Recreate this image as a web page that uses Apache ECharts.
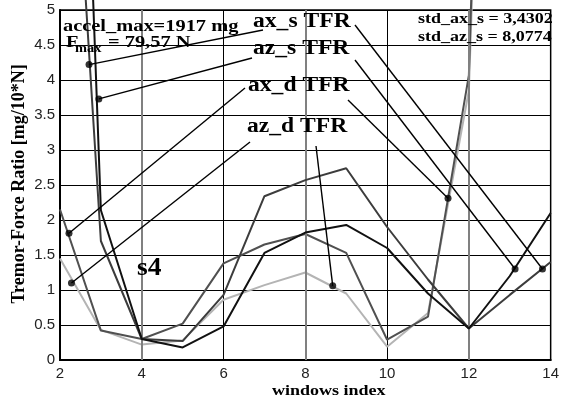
<!DOCTYPE html>
<html><head><meta charset="utf-8">
<script src="https://cdn.jsdelivr.net/npm/echarts@6/dist/echarts.min.js"></script>
<style>html,body{margin:0;padding:0;background:#fff}#c{width:562px;height:402px}</style>
</head><body><div id="c"></div>
<script>
// ---- data ----
const windowsIndex = [2, 3, 4, 5, 6, 7, 8, 9, 10, 11, 12, 13, 14];
const axS = [11, 1.7, 0.3, 0.27, 0.93, 2.34, 2.57, 2.74, 1.9, 1.15, 0.45, 0.93, 1.4];
const azS = [18, 2.14, 0.3, 0.18, 0.48, 1.53, 1.82, 1.93, 1.6, 0.95, 0.45, 1.2, 2.1];
const axD = [2.15, 0.42, 0.3, 0.52, 1.38, 1.65, 1.8, 1.53, 0.29, 0.62, 4.07, 23, null];
const azD = [1.45, 0.43, 0.22, 0.28, 0.86, 1.07, 1.25, 0.95, 0.19, 0.67, 3.85, 21, null];
const grayGridX = [4, 8, 12];
// annotation dots (data coordinates) for each label
const axSDots = [[2.71, 4.22], [13.8, 1.3]];
const azSDots = [[2.95, 3.73], [13.13, 1.3]];
const axDDots = [[2.22, 1.81], [11.49, 2.31]];
const azDDots = [[2.28, 1.1], [8.67, 1.06]];

const pair = (xs, ys) => xs.map((x, i) => [x, ys[i]]);
const lineSeries = (name, ys, color, z) => ({
  name, type: 'line', data: pair(windowsIndex, ys), clip: false,
  showSymbol: false, symbol: 'none', connectNulls: false, z,
  lineStyle: { color, width: 2 }
});

const chart = echarts.init(document.getElementById('c'), null, { renderer: 'canvas' });
const serif = '"Liberation Serif", "Times New Roman", serif';
chart.setOption({
  animation: false,
  backgroundColor: '#fff',
  grid: { left: 60, right: 5, top: 10, bottom: 42, show: true, borderColor: '#000', borderWidth: 1.5 },
  xAxis: {
    type: 'value', min: 2, max: 14, interval: 2,
    axisLine: { show: true, lineStyle: { color: '#000', width: 2 } },
    axisTick: { show: false },
    axisLabel: { fontSize: 15, color: '#222', fontFamily: '"Liberation Sans", Arial, sans-serif', margin: 6 },
    splitLine: { show: true, lineStyle: { color: '#000', width: 1 } }
  },
  yAxis: {
    type: 'value', min: 0, max: 5, interval: 0.5,
    axisLine: { show: true, lineStyle: { color: '#000', width: 2 } },
    axisTick: { show: false },
    axisLabel: { fontSize: 15, color: '#222', fontFamily: '"Liberation Sans", Arial, sans-serif', margin: 5 },
    splitLine: { show: true, lineStyle: { color: '#000', width: 1 } }
  },
  series: [
    {
      type: 'line', data: [], z: 1, silent: true,
      markLine: {
        symbol: 'none', silent: true, label: { show: false },
        lineStyle: { color: '#808080', width: 2, type: 'solid' },
        data: grayGridX.map(v => ({ xAxis: v }))
      }
    },
    lineSeries('az_d TFR', azD, '#b4b4b4', 3),
    lineSeries('ax_d TFR', axD, '#505050', 4),
    lineSeries('ax_s TFR', axS, '#3c3c3c', 5),
    lineSeries('az_s TFR', azS, '#111111', 6),
    {
      type: 'scatter', z: 10, symbolSize: 7, itemStyle: { color: '#000' },
      data: [].concat(axSDots, azSDots, axDDots, azDDots)
    }
  ]
});

// annotations
const px = p => chart.convertToPixel({ gridIndex: 0 }, p);
const T = (text, x, baseline, size, sx, extra) => Object.assign({
  type: 'text', x, y: baseline - 0.33 * size, scaleX: sx, z: 20,
  style: { text, font: 'bold ' + size + 'px ' + serif, fill: '#000', verticalAlign: 'middle', align: 'left' }
}, extra || {});
const L = (a, b) => ({
  type: 'line', z: 15, silent: true,
  shape: { x1: a[0], y1: a[1], x2: b[0], y2: b[1] },
  style: { stroke: '#000', lineWidth: 1.4 }
});
const anchors = [
  [[263, 30], [355, 25], axSDots],
  [[252, 58], [355, 60], azSDots],
  [[245, 88], [348, 100], axDDots],
  [[250, 142], [316, 146], azDDots]
];
const g = [];
anchors.forEach(([la, ra, dots]) => {
  g.push(L(la, px(dots[0])));
  g.push(L(ra, px(dots[1])));
});
g.push(T('accel_max=1917 mg', 63, 32, 17, 1.2));
g.push(T('F', 66, 48, 17, 1.2));
g.push(T('max', 75, 53, 12, 1.2));
g.push(T('= 79,57 N', 108, 48, 17, 1.2));
g.push(T('ax_s TFR', 253, 28, 20, 1.18));
g.push(T('az_s TFR', 253, 55, 20, 1.18));
g.push(T('ax_d TFR', 248, 92, 20, 1.18));
g.push(T('az_d TFR', 247, 133, 20, 1.18));
g.push(T('std_ax_s = 3,4302', 418, 24, 15, 1.2));
g.push(T('std_az_s = 8,0774', 418, 42, 15, 1.2));
g.push(T('s4', 137, 277, 25, 1.1));
g.push(T('windows index', 272, 396, 15, 1.2));
g.push({
  type: 'text', x: 19, y: 184, rotation: Math.PI / 2, z: 20,
  style: { text: 'Tremor-Force Ratio [mg/10*N]', font: 'bold 18px ' + serif, fill: '#000', align: 'center', verticalAlign: 'middle' }
});
chart.setOption({ graphic: g });
</script>
</body></html>
